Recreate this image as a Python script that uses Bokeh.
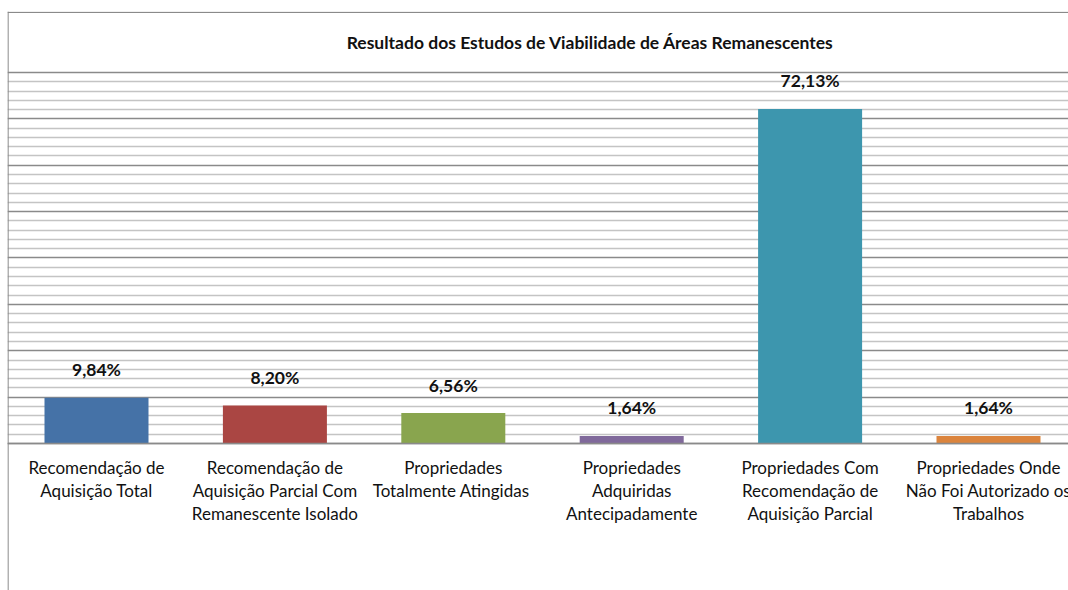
from bokeh.plotting import figure
from bokeh.models import Range1d, Grid, FixedTicker, Span, Label, ColumnDataSource
from bokeh.core.properties import value
from bokeh.embed import file_html
from bokeh.resources import INLINE

# ---- data ----
categories = [
    "Recomendação de\nAquisição Total",
    "Recomendação de\nAquisição Parcial Com\nRemanescente Isolado",
    "Propriedades\nTotalmente  Atingidas",
    "Propriedades\nAdquiridas\nAntecipadamente",
    "Propriedades Com\nRecomendação de\nAquisição Parcial",
    "Propriedades Onde\nNão Foi Autorizado os\nTrabalhos",
]
percentages = [9.84, 8.20, 6.56, 1.64, 72.13, 1.64]
bar_colors = ["#4572A7", "#AA4643", "#89A54E", "#80699B", "#3D96AE", "#DB843D"]
title_text = "Resultado dos Estudos de Viabilidade  de Áreas Remanescentes"
major_ticks = list(range(0, 81, 10))
minor_ticks = [t for t in range(0, 81, 2) if t % 10 != 0]

FONT = "Lato"

xs = [i + 0.5 for i in range(len(categories))]
labels = [f"{v:.2f}".replace(".", ",") + "%" for v in percentages]
src = ColumnDataSource(dict(x=xs, top=percentages, color=bar_colors,
                            label=labels, cat=categories))

p = figure(width=1068, height=590, output_backend="svg", toolbar_location=None,
           x_range=Range1d(0.0011, 5.9484), y_range=Range1d(-31.70, 93.15),
           x_axis_location=None, y_axis_location=None,
           min_border_left=7, min_border_right=0, min_border_top=11, min_border_bottom=0)
p.outline_line_color = None
p.background_fill_color = "white"
p.border_fill_color = "white"
for g in p.grid:
    g.visible = False

grid = Grid(dimension=1, ticker=FixedTicker(ticks=major_ticks, minor_ticks=minor_ticks),
            grid_line_color="#8a8a8a", grid_line_width=1.3,
            minor_grid_line_color="#c4c4c4", minor_grid_line_width=1.3)
p.add_layout(grid)

p.vbar(x="x", top="top", bottom=0, width=0.583, color="color", source=src, line_color=None)

# axis baseline
p.add_layout(Span(location=0, dimension="width", line_color="#8a8a8a", line_width=1.3))
# chart-area border (top and left)
p.add_layout(Span(location=92.94, dimension="width", line_color="#8a8a8a", line_width=1.3))
p.add_layout(Span(location=0.0040, dimension="height", line_color="#8a8a8a", line_width=1.3))

# value labels
p.text(x="x", y="top", text="label", source=src, text_align="center",
       text_baseline="middle", y_offset=-28, text_font=value(FONT),
       text_font_style="bold", text_font_size="17.5px", text_color="#111111")

# category labels
p.text(x="x", y=0, text="cat", source=src, text_align="center",
       text_baseline="top", y_offset=14, text_font=value(FONT),
       text_font_size="17px", text_color="#111111", text_line_height=1.08)

p.add_layout(Label(x=3.28, y=86.47, text=title_text, text_align="center",
                   text_baseline="middle", text_font=FONT, text_font_style="bold",
                   text_font_size="17.5px", text_color="#111111"))

open("out.html", "w").write(file_html(p, INLINE))
